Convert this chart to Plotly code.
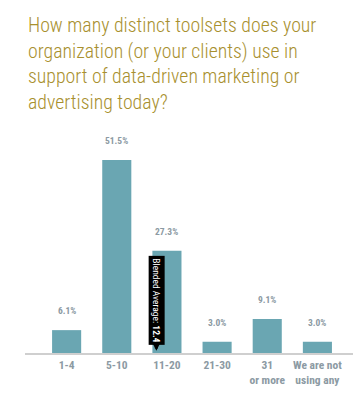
import plotly.graph_objects as go

categories = ["1-4", "5-10", "11-20", "21-30", "31<br>or more", "We are not<br>using any"]
values = [6.1, 51.5, 27.3, 3.0, 9.1, 3.0]
value_labels = ["6.1%", "51.5%", "27.3%", "3.0%", "9.1%", "3.0%"]
title_lines = [
    "How many distinct toolsets does your",
    "organization (or your clients) use in",
    "support of data-driven marketing or",
    "advertising today?",
]
blended_avg = 12.4

xs = list(range(len(categories)))
NARROW = "Roboto Condensed, Roboto, sans-serif"
GREY = "#8c9aa3"

# page body has an 8px margin, so the figure is 8px smaller and offset
W, H = 354, 404
L, R, T, B = 17, 9, 120, 59
PW, PH = W - L - R, H - T - B

fig = go.Figure()
fig.add_trace(go.Bar(
    x=xs, y=values, marker=dict(color="#6aa6b2", line=dict(width=0)),
    hoverinfo="skip",
))

for x, v, t in zip(xs, values, value_labels):
    fig.add_annotation(x=x, y=v, text="<b>%s</b>" % t, showarrow=False,
                       yanchor="bottom", yshift=12,
                       font=dict(family=NARROW, size=9.5, color=GREY))

fig.add_annotation(
    x=1.79, y=0.6, xref="x", yref="y",
    text="Blended Average: <b>%s</b>" % blended_avg,
    textangle=90, showarrow=True, ax=0, ay=-50,
    arrowhead=2, arrowsize=0.6, arrowwidth=3, arrowcolor="black", standoff=0,
    bgcolor="black", borderpad=2,
    font=dict(family=NARROW, size=9.5, color="white"),
)

fig.add_annotation(
    xref="paper", yref="paper", x=(18 - L) / PW, y=1 + (T - 4) / PH,
    text="<br>".join(title_lines),
    showarrow=False, align="left", xanchor="left", yanchor="top",
    font=dict(family=NARROW, size=19.8, color="#a8902e", weight=300),
)

fig.update_layout(
    width=W, height=H,
    margin=dict(l=L, r=R, t=T, b=B),
    paper_bgcolor="white", plot_bgcolor="white",
    showlegend=False, bargap=0.42,
    xaxis=dict(range=[-0.83, 5.71], tickvals=xs, ticktext=["<b>%s</b>" % c for c in categories],
               showline=True, linecolor="#cfcfcf", linewidth=1.5, showgrid=False, zeroline=False,
               ticks="", tickangle=0, tickfont=dict(family=NARROW, size=11.5, color=GREY), fixedrange=True),
    yaxis=dict(range=[0, 60], visible=False, showgrid=False, zeroline=False, fixedrange=True),
)

fig.write_html("out.html")
